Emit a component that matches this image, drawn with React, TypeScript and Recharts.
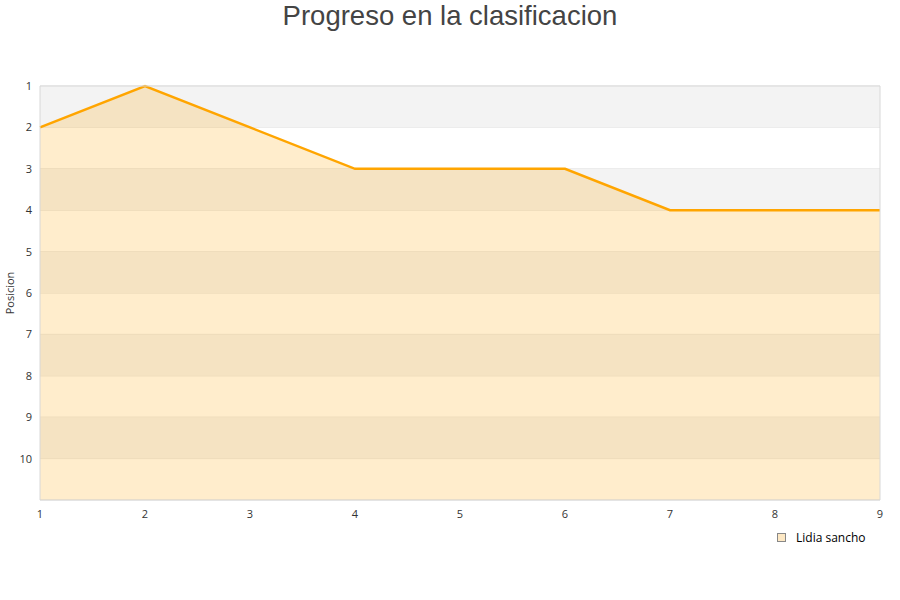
import React from 'react';
import { ComposedChart, Area, XAxis, YAxis, CartesianGrid, ReferenceArea, ReferenceLine } from 'recharts';

const jornadas = [1, 2, 3, 4, 5, 6, 7, 8, 9];
const posiciones = [2, 1, 2, 3, 3, 3, 4, 4, 4];
const yTicks = [1, 2, 3, 4, 5, 6, 7, 8, 9, 10];
const grayBands = [[1, 2], [3, 4], [5, 6], [7, 8], [9, 10]];
const seriesName = 'Lidia sancho';
const title = 'Progreso en la clasificacion';

const data = jornadas.map((j, i) => ({ jornada: j, pos: posiciones[i] }));

const tickStyle = { fontFamily: 'Open Sans', fontSize: 11, fill: '#333' };

export default function App() {
  return (
    <div style={{ position: 'absolute', left: 0, top: 0, width: 900, height: 600, background: '#fff' }}>
      <div style={{ position: 'absolute', left: 0, top: 0, width: 900, textAlign: 'center', fontFamily: 'Liberation Sans', fontSize: 27.5, color: '#444', lineHeight: '32px' }}>
        {title}
      </div>
      <ComposedChart width={900} height={600} data={data} margin={{ top: 86, right: 20, bottom: 0, left: 0 }}>
        {grayBands.map(([a, b]) => (
          <ReferenceArea key={a} y1={a} y2={b} fill="#f3f3f3" fillOpacity={1} stroke="none" />
        ))}
        <CartesianGrid vertical={false} stroke="#e2e2e2" />
        <XAxis
          dataKey="jornada"
          type="number"
          domain={[1, 9]}
          ticks={jornadas}
          tickLine={false}
          axisLine={{ stroke: '#d8d8d8' }}
          tick={{ ...tickStyle, dy: 2 }}
          height={100}
        />
        <YAxis
          type="number"
          domain={[1, 11]}
          reversed
          ticks={yTicks}
          width={40}
          tickLine={false}
          axisLine={{ stroke: '#d8d8d8' }}
          tick={tickStyle}
          interval={0}
          label={(props: any) => {
            const vb = props.viewBox || { y: 86, height: 414 };
            const cy = vb.y + vb.height / 2;
            return (
              <text x={14} y={cy} transform={`rotate(-90, 14, ${cy})`} textAnchor="middle" style={{ fontFamily: 'Open Sans', fontSize: 11, fill: '#333' }}>
                Posicion
              </text>
            );
          }}
        />
        <ReferenceLine x={9} stroke="#d8d8d8" />
        <ReferenceLine y={1} stroke="#d8d8d8" />
        <Area
          type="linear"
          dataKey="pos"
          name={seriesName}
          stroke="#ffa500"
          strokeWidth={2.5}
          fill="#ffa500"
          fillOpacity={0.2}
          baseValue="dataMax"
          dot={false}
          activeDot={false}
          isAnimationActive={false}
        />
      </ComposedChart>
      <div style={{ position: 'absolute', left: 777, top: 529, display: 'flex', alignItems: 'center', fontFamily: 'Open Sans', fontSize: 12, color: '#000' }}>
        <span style={{ display: 'inline-block', width: 7, height: 7, background: '#fde8c4', border: '1px solid #888', marginRight: 10 }} />
        <span>{seriesName}</span>
      </div>
    </div>
  );
}
